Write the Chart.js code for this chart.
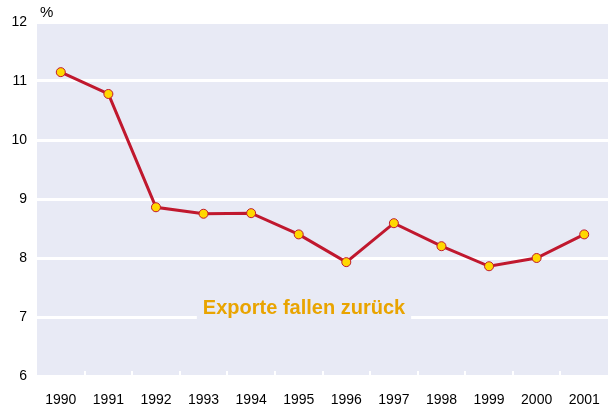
<!DOCTYPE html>
<html>
<head>
<meta charset="utf-8">
<script src="https://cdn.jsdelivr.net/npm/chart.js@4"></script>
<style>
  html, body { margin: 0; padding: 0; background: #fff; overflow: hidden; }
  canvas { display: block; }
</style>
</head>
<body>
<canvas id="myChart" width="608" height="408"></canvas>
<script>
"use strict";
// data
const years = ["1990", "1991", "1992", "1993", "1994", "1995", "1996", "1997", "1998", "1999", "2000", "2001"];
const exportShare = [11.15, 10.78, 8.86, 8.75, 8.76, 8.4, 7.93, 8.59, 8.2, 7.86, 8.0, 8.4];
const yTicks = [6, 7, 8, 9, 10, 11, 12];
const unitLabel = "%";
const note = "Exporte fallen zurück";

const bgColor = "#e8eaf5";

// lavender plot area, little white ticks at the bottom, note and unit
const decor = {
  id: "decor",
  beforeDraw(chart) {
    const { ctx, chartArea } = chart;
    ctx.save();
    ctx.fillStyle = bgColor;
    ctx.fillRect(chartArea.left, chartArea.top, chartArea.right - chartArea.left, chartArea.bottom - chartArea.top);
    ctx.restore();
  },
  afterDatasetsDraw(chart) {
    const { ctx, chartArea, scales } = chart;
    const x = scales.x;
    ctx.save();
    ctx.strokeStyle = "#ffffff";
    ctx.lineWidth = 2;
    for (let i = 1; i < years.length; i++) {
      const px = Math.round((x.getPixelForValue(i - 1) + x.getPixelForValue(i)) / 2);
      ctx.beginPath();
      ctx.moveTo(px, chartArea.bottom);
      ctx.lineTo(px, chartArea.bottom - 5);
      ctx.stroke();
    }
    // note with a box hiding the grid line behind it
    ctx.font = "bold 20px 'Liberation Sans', Arial, sans-serif";
    ctx.textAlign = "center";
    ctx.textBaseline = "middle";
    const cx = 304, cy = 308;
    const w = ctx.measureText(note).width;
    ctx.fillStyle = bgColor;
    ctx.fillRect(cx - w / 2 - 6, cy - 11, w + 12, 24);
    ctx.fillStyle = "#e9a400";
    ctx.fillText(note, cx, cy);
    // unit
    ctx.font = "15px 'Liberation Sans', Arial, sans-serif";
    ctx.fillStyle = "#000";
    ctx.textAlign = "left";
    ctx.fillText(unitLabel, 40, 13);
    ctx.restore();
  }
};

new Chart(document.getElementById("myChart"), {
  type: "line",
  data: {
    labels: years,
    datasets: [
      {
        data: exportShare,
        borderColor: "#c0182e",
        borderWidth: 3,
        pointBackgroundColor: "#ffd800",
        pointBorderColor: "#c0182e",
        pointBorderWidth: 1,
        pointRadius: 4.5,
        tension: 0,
      },
    ],
  },
  options: {
    responsive: false,
    animation: false,
    layout: { autoPadding: false, padding: { top: 22, right: 0, left: 0, bottom: 0 } },
    plugins: { legend: { display: false }, tooltip: { enabled: false } },
    scales: {
      x: {
        offset: true,
        grid: { display: false },
        border: { display: false },
        ticks: {
          color: "#000",
          font: { family: "'Liberation Sans', Arial, sans-serif", size: 14 },
          maxRotation: 0,
          padding: 8,
        },
        afterFit(scale) {
          scale.height = 32;
          scale.paddingLeft = 0;
          scale.paddingRight = 0;
        },
      },
      y: {
        min: 6,
        max: 12,
        afterBuildTicks(scale) { scale.ticks = yTicks.map((v) => ({ value: v })); },
        grid: { color: "#ffffff", lineWidth: 3, drawTicks: false },
        border: { display: false },
        ticks: {
          color: "#000",
          font: { family: "'Liberation Sans', Arial, sans-serif", size: 14 },
          padding: 10,
        },
        afterFit(scale) { scale.width = 37; },
      },
    },
  },
  plugins: [decor],
});
</script>
</body>
</html>
